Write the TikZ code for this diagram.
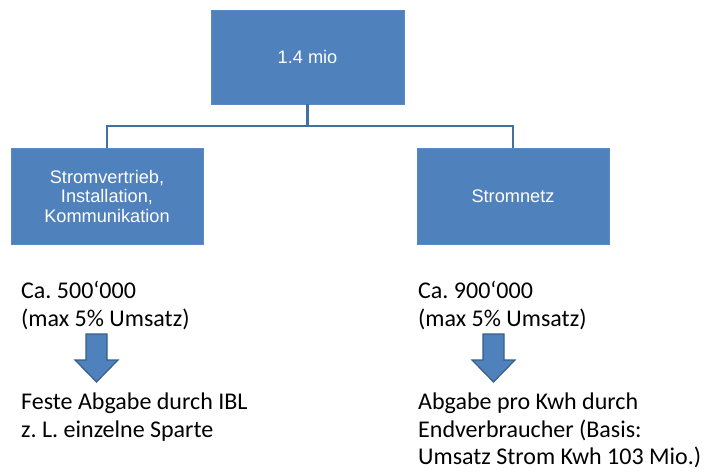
\documentclass[tikz,border=0pt]{standalone}
\usepackage{fontspec}
\setmainfont{Carlito}
\newfontfamily\boxfont{Liberation Sans}
\usetikzlibrary{positioning}
\frenchspacing

\definecolor{boxfill}{HTML}{4F81BD}
\definecolor{boxline}{HTML}{5A8AC6}
\definecolor{linecol}{HTML}{41719C}
\definecolor{arrowline}{HTML}{385D8A}

\begin{document}
\begin{tikzpicture}[
    x=1pt, y=-1pt,
    orgbox/.style={
        rectangle,
        draw=boxline,
        fill=boxfill,
        text=white,
        align=center,
        inner sep=0pt,
        minimum width=192pt,
        minimum height=96pt,
        font=\boxfont\fontsize{18.2}{19.5}\selectfont,
    },
    note/.style={
        anchor=north west,
        align=left,
        inner sep=0pt,
        font=\fontsize{24}{27.5}\selectfont,
    },
    link/.style={draw=linecol, line width=2.5pt},
    blockarrow/.style={fill=boxfill, draw=arrowline, line width=1.2pt, line join=miter}
]
\useasboundingbox (0,0) rectangle (704,472);

\node[orgbox, minimum width=193pt, minimum height=94pt] (total) at (307.5,57) {1.4 mio};
\node[orgbox] (vertrieb) at (107,196) {Stromvertrieb,\\Installation,\\Kommunikation};
\node[orgbox] (netz) at (513,196) {Stromnetz};

\coordinate (bus) at ([yshift=-22pt]total.south);
\draw[link] (total.south) -- (bus);
\draw[link] (bus) -| (vertrieb.north);
\draw[link] (bus) -| (netz.north);

\node[note] (vertrieb_sum) at (21,281) {Ca. 500‘000\\(max 5\% Umsatz)};
\node[note] (netz_sum) at (418,281) {Ca. 900‘000\\(max 5\% Umsatz)};

% block arrows
\foreach \cx in {96.5,493.5}
    \draw[blockarrow] (\cx-10.5,334) -- (\cx+10.5,334) -- (\cx+10.5,360) -- (\cx+21.5,360)
        -- (\cx,382) -- (\cx-21.5,360) -- (\cx-10.5,360) -- cycle;

\node[note] (vertrieb_abgabe) at (21,393) {Feste Abgabe durch IBL\\z. L. einzelne Sparte};
\node[note] (netz_abgabe) at (418,393) {Abgabe pro Kwh durch\\Endverbraucher (Basis:\\Umsatz Strom Kwh 103 Mio.)};

\end{tikzpicture}
\end{document}
